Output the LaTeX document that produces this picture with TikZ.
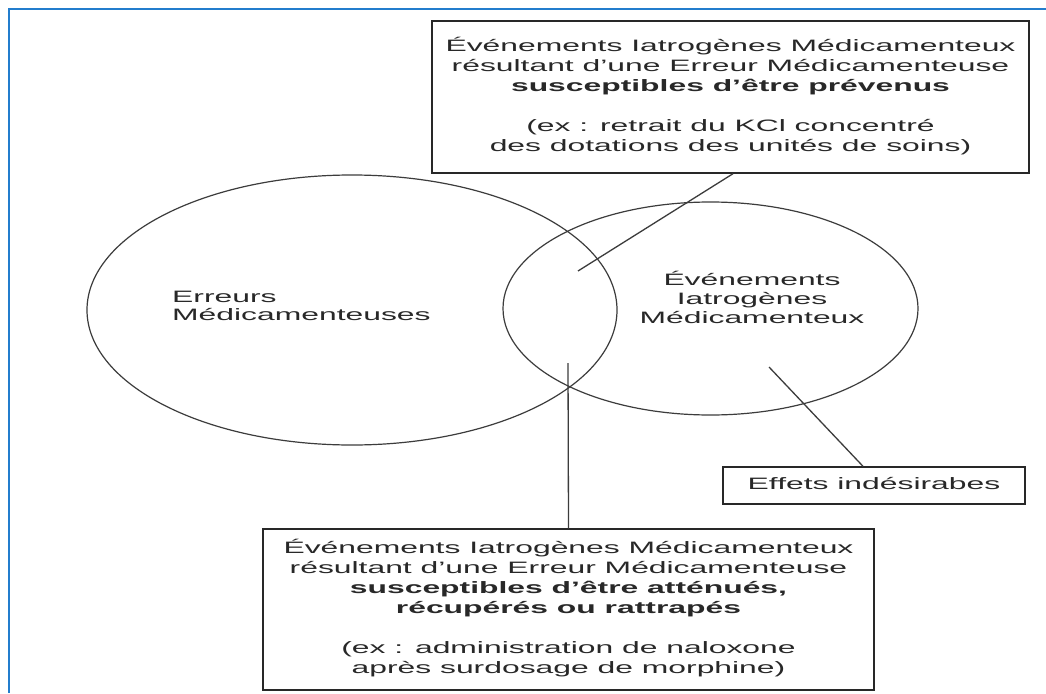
\documentclass[tikz,border=0pt]{standalone}
\usepackage{fontspec}
\setmainfont{Liberation Sans}
\usepackage{graphicx}
\usetikzlibrary{shapes.geometric}
\definecolor{framecol}{RGB}{35,125,205}
\definecolor{inkcol}{RGB}{40,40,40}
\definecolor{linecol}{RGB}{60,60,60}
\newcommand{\stx}[2]{\scalebox{1.93}[1]{\begin{tabular}[t]{@{}#1@{}}#2\end{tabular}}}
\tikzset{
  box/.style={draw=inkcol, line width=1.4pt, fill=white, inner sep=0pt, text=inkcol,
              font=\fontsize{16.5}{20}\selectfont},
  venn/.style={ellipse, draw=linecol, line width=1.2pt, inner sep=0pt},
  lab/.style={inner sep=0pt, text=inkcol, font=\fontsize{16.5}{18.8}\selectfont},
  conn/.style={draw=linecol, line width=1.3pt},
  frameline/.style={draw=framecol, line width=2.5pt}
}
\begin{document}
\begin{tikzpicture}[x=1pt, y=-1pt]
\useasboundingbox (0,0) rectangle (1046,693);
\fill[white] (0,0) rectangle (1046,693);
\draw[frameline] (9,693) -- (9,9) -- (1046,9);

% ellipses
\node[venn, minimum width=530, minimum height=270] (em) at (352,310) {};
\node[venn, minimum width=415, minimum height=213] (eim) at (710.5,308.5) {};

% ellipse labels
\node[lab, anchor=base west] (emlab) at (172,302) {\stx{l}{Erreurs\\Médicamenteuses}};
\node[lab, anchor=base] (eimlab) at (752,285.5) {\stx{c}{Événements\\Iatrogènes\\Médicamenteux}};

% boxes
\node[box, minimum width=597, minimum height=152] (topbox) at (730.5,97)
  {\stx{c}{Événements Iatrogènes Médicamenteux\\
  résultant d’une Erreur Médicamenteuse\\
  \textbf{susceptibles d’être prévenus}\\[20pt]
  (ex : retrait du KCl concentré\\
  des dotations des unités de soins)}};
\node[box, minimum width=611, minimum height=161] (botbox) at (568.5,609.5)
  {\stx{c}{Événements Iatrogènes Médicamenteux\\
  résultant d’une Erreur Médicamenteuse\\
  \textbf{susceptibles d’être atténués,}\\
  \textbf{récupérés ou rattrapés}\\[20pt]
  (ex : administration de naloxone\\
  après surdosage de morphine)}};
\node[box, minimum width=302, minimum height=37] (eff) at (874,485.5)
  {\stx{c}{Effets indésirabes}};

% connectors
\coordinate (ptop) at (578,271);
\coordinate (pbot) at (568,363);
\coordinate (peff) at (769,367);
\draw[conn] ([xshift=2.5]topbox.south) -- (ptop);
\draw[conn] (pbot) -- (botbox.north);
\draw[conn] (peff) -- ([xshift=-11]eff.north);
\end{tikzpicture}
\end{document}
